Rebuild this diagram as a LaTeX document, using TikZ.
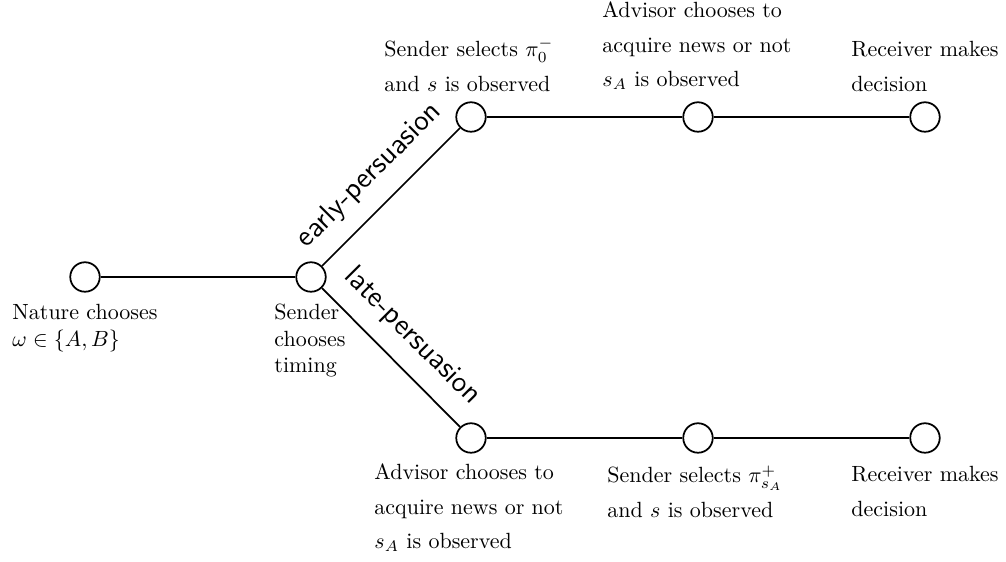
\documentclass[tikz,border=0pt]{standalone}
\usepackage{fontspec}
\newcommand{\lblbox}[2][1]{{\renewcommand{\arraystretch}{#1}\begin{tabular}[t]{@{}l@{}}#2\end{tabular}}}
\tikzset{
  state/.style={draw, circle, thick, minimum size=13.4pt, inner sep=0pt, fill=white},
  edge/.style={thick},
  lbl/.style={anchor=base west, inner sep=0pt, font=\normalsize},
  phase/.style={font=\sffamily\fontsize{13.5}{16}\selectfont, sloped, midway, above=4pt}
}
\begin{document}
\begin{tikzpicture}[x=0.4545pt, y=-0.4545pt]
\useasboundingbox (0,0) rectangle (1006,562);
\node[state] (n0) at (85,277) {};
\node[state] (n1) at (311,277) {};
\node[state] (t1) at (471,117) {};
\node[state] (t2) at (698,117) {};
\node[state] (t3) at (925,117) {};
\node[state] (b1) at (471,438) {};
\node[state] (b2) at (698,438) {};
\node[state] (b3) at (925,438) {};

\draw[edge] (n0) -- (n1);
\draw[edge] (n1) -- node[phase] {early-persuasion} (t1);
\draw[edge] (n1) -- node[phase] {late-persuasion} (b1);
\draw[edge] (t1) -- (t2);
\draw[edge] (t2) -- (t3);
\draw[edge] (b1) -- (b2);
\draw[edge] (b2) -- (b3);

\node[lbl] (l0) at (12,320) {\lblbox{Nature chooses\\ $\omega\in\{A,B\}$}};
\node[lbl] (l1) at (274,320) {\lblbox{Sender\\ chooses\\ timing}};
\node[lbl] (lt1) at (384,57) {\lblbox[1.3]{Sender selects $\pi_0^-$\\ and $s$ is observed}};
\node[lbl] (lt2) at (602,18) {\lblbox[1.3]{Advisor chooses to\\ acquire news or not\\ $s_A$ is observed}};
\node[lbl] (lt3) at (851,57) {\lblbox[1.3]{Receiver makes\\ decision}};
\node[lbl] (lb1) at (374,480) {\lblbox[1.3]{Advisor chooses to\\ acquire news or not\\ $s_A$ is observed}};
\node[lbl] (lb2) at (607,483) {\lblbox[1.3]{Sender selects $\pi_{s_A}^+$\\ and $s$ is observed}};
\node[lbl] (lb3) at (851,482) {\lblbox[1.3]{Receiver makes\\ decision}};
\end{tikzpicture}
\end{document}
